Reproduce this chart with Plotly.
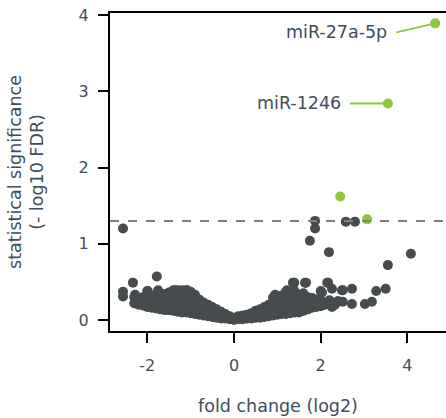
import plotly.graph_objects as go

# ---- data ----
cloud_x = [
    -2.3, -2.2, -2.1, -2.0, -1.9, -1.8, -1.7, -1.6, -1.5, -1.4, -1.3, -1.2, -1.1, -1.0, -0.9, -0.8, -0.7, -0.6, -0.5, -0.4, -0.3, -0.2, -0.1, 0.0,
    0.1, 0.2, 0.3, 0.4, 0.5, 0.6, 0.7, 0.8, 0.9, 1.0, 1.1, 1.2, 1.3, 1.4, 1.5, 1.6, 1.7, 1.8, 1.9, 2.0,
    -2.3, -2.2, -2.1, -2.0, -1.9, -1.8, -1.7, -1.6, -1.5, -1.4, -1.3, -1.2, -1.1, -1.0, -0.9, -0.8, -0.7, -0.6, -0.5, -0.4, -0.3, -0.2, -0.1, 0.0,
    0.1, 0.2, 0.3, 0.4, 0.5, 0.6, 0.7, 0.8, 0.9, 1.0, 1.1, 1.2, 1.3, 1.4, 1.5, 1.6, 1.7, 1.8, 1.9, 2.0,
    -2.0, -1.9, -1.8, -1.7, -1.6, -1.6, -1.5, -1.5, -1.4, -1.4, -1.3, -1.3, -1.2, -1.2, -1.2, -1.1, -1.1, -1.1,
    -1.0, -1.0, -0.9, -0.9, -0.8, -0.7, -0.6, -0.5, 0.7, 0.8, 0.9, 0.9, 1.0, 1.1, 1.1, 1.2, 1.2, 1.3, 1.3,
    1.4, 1.4, 1.5, 1.6, 1.7, 1.8, 1.9, 2.0,
]
cloud_y = [
    0.22, 0.20, 0.19, 0.17, 0.16, 0.15, 0.14, 0.13, 0.13, 0.12, 0.11, 0.10, 0.10, 0.09, 0.08, 0.07, 0.06, 0.05, 0.04, 0.03, 0.02, 0.02, 0.01, 0.00,
    0.01, 0.01, 0.02, 0.02, 0.03, 0.03, 0.04, 0.05, 0.06, 0.07, 0.08, 0.08, 0.09, 0.10, 0.10, 0.12, 0.14, 0.16, 0.17, 0.18,
    0.30, 0.28, 0.30, 0.33, 0.30, 0.33, 0.32, 0.34, 0.36, 0.39, 0.39, 0.39, 0.39, 0.37, 0.33, 0.27, 0.23, 0.20, 0.17, 0.14, 0.11, 0.08, 0.05, 0.03,
    0.05, 0.06, 0.07, 0.09, 0.12, 0.14, 0.17, 0.20, 0.29, 0.27, 0.32, 0.37, 0.36, 0.38, 0.33, 0.35, 0.30, 0.29, 0.27, 0.26,
    0.25, 0.23, 0.24, 0.23, 0.21, 0.28, 0.20, 0.28, 0.19, 0.29, 0.18, 0.28, 0.17, 0.25, 0.32, 0.16, 0.24, 0.31,
    0.16, 0.25, 0.15, 0.24, 0.17, 0.14, 0.12, 0.10, 0.10, 0.12, 0.13, 0.21, 0.16, 0.15, 0.23, 0.16, 0.26, 0.16, 0.26,
    0.18, 0.28, 0.20, 0.22, 0.22, 0.22, 0.22, 0.22,
]
extra_x = [
    -2.56, -2.56, -2.33, -1.78, -1.75, -2.28, -2.0, -2.1, -1.36, -1.08, -1.99,
    1.39, 1.66, 1.66, 2.0, 2.17, 2.26, 2.51, 2.72, 3.28, 3.5, 2.72, 3.02, 3.18, 2.51, 2.33, 2.26,
    2.1, 2.2, 2.4, 1.36, 1.64, 2.15, 1.22, 2.03, 2.49, 0.95, 1.22,
    -2.56, 1.87, 1.87, 1.75, 2.19, 2.58, 2.79, 4.08, 3.55,
]
extra_y = [
    0.37, 0.31, 0.49, 0.57, 0.39, 0.33, 0.38, 0.22, 0.39, 0.39, 0.38,
    0.49, 0.49, 0.30, 0.38, 0.49, 0.41, 0.39, 0.41, 0.38, 0.41, 0.21, 0.21, 0.24, 0.24, 0.20, 0.17,
    0.20, 0.26, 0.25, 0.49, 0.49, 0.49, 0.36, 0.36, 0.39, 0.33, 0.39,
    1.20, 1.30, 1.20, 1.04, 0.89, 1.29, 1.29, 0.87, 0.72,
]
sig_x = [2.45, 3.07, 3.55, 4.64]
sig_y = [1.62, 1.32, 2.84, 3.89]
labels = ["", "", "miR-1246", "miR-27a-5p"]
label_dx = [0, 0, -38, -39]
label_dy = [0, 0, 0, 9]
threshold = 1.3
x_tickvals = [-2, 0, 2, 4]
x_ticktext = ["-2", "0", "2", "4"]
y_tickvals = [0, 1, 2, 3, 4]
y_ticktext = ["0", "1", "2", "3", "4"]

DARK = "#464b4e"
GREEN = "#8dc63f"
TEXT = "#3e4d5c"
FONT = "DejaVu Sans"
FS_TICK = 16
FS = 17.5

fig = go.Figure()
fig.add_trace(go.Scatter(x=cloud_x + extra_x, y=cloud_y + extra_y, mode="markers",
                         marker=dict(color=DARK, size=10, line=dict(width=0)),
                         hoverinfo="skip", showlegend=False, cliponaxis=False))
fig.add_trace(go.Scatter(x=sig_x, y=sig_y, mode="markers",
                         marker=dict(color=GREEN, size=10, line=dict(width=0)),
                         showlegend=False, cliponaxis=False))

fig.add_hline(y=threshold, line=dict(color="#7f7f7f", width=2, dash="dash"))

for x, y, t, dx, dy in zip(sig_x, sig_y, labels, label_dx, label_dy):
    if t:
        fig.add_annotation(x=x, y=y, text=t, showarrow=True, arrowhead=0,
                           arrowcolor=GREEN, arrowwidth=2, ax=dx, ay=dy,
                           xanchor="right", yanchor="middle", borderpad=8,
                           font=dict(family=FONT, size=FS, color=TEXT))

axis_common = dict(showgrid=False, zeroline=False, showline=True, linecolor="black",
                   linewidth=2, ticks="outside", ticklen=10, tickwidth=2, tickcolor="black",
                   automargin=False,
                   tickfont=dict(family=FONT, size=FS_TICK, color=TEXT))
fig.update_xaxes(range=[-2.86, 4.89], tickvals=x_tickvals, ticktext=x_ticktext, mirror=True,
                 title=dict(text="fold change (log2)", font=dict(family=FONT, size=FS, color=TEXT), standoff=26),
                 ticklabelstandoff=9, **axis_common)
fig.update_yaxes(range=[-0.144, 4.026], tickvals=y_tickvals, ticktext=y_ticktext,
                 title=dict(text="statistical significance<br>(- log10 FDR)",
                            font=dict(family=FONT, size=FS, color=TEXT), standoff=30),
                 ticklabelstandoff=6, **axis_common)

fig.update_layout(width=446, height=418, margin=dict(l=110, r=0, t=13, b=87),
                  plot_bgcolor="white", paper_bgcolor="white",
                  font=dict(family=FONT, color=TEXT))
fig.write_html("out.html", config={"displayModeBar": False},
               post_script="document.body.style.margin='0px';")
